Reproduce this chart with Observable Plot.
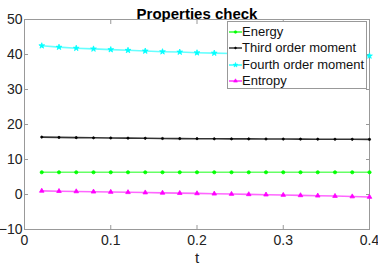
<!DOCTYPE html>
<html><head><meta charset="utf-8">
<script src="https://cdn.jsdelivr.net/npm/d3@7"></script>
<script src="https://cdn.jsdelivr.net/npm/@observablehq/plot@0.6"></script>
<style>
body{margin:0;background:#fff;font-family:"Liberation Sans",Arial,sans-serif;}
#wrap{position:relative;width:378px;height:268px;}
#legend{position:absolute;left:227px;top:21px;width:138px;height:66px;border:1px solid #999;background:#fff;font-size:13px;color:#111;}
.item{position:absolute;left:0;height:16px;line-height:16px;white-space:nowrap;}
.item svg{position:absolute;left:1px;top:3px;}
.item span{position:absolute;left:14px;top:0;}
</style></head><body>
<div id="wrap"><div id="chart"></div><div id="legend"></div></div>
<script>
const t = [0.02,0.04,0.06,0.08,0.10,0.12,0.14,0.16,0.18,0.20,0.22,0.24,0.26,0.28,0.30,0.32,0.34,0.36,0.38,0.40];
const energy = [6.35,6.35,6.35,6.35,6.35,6.35,6.35,6.35,6.35,6.35,6.35,6.35,6.35,6.35,6.35,6.35,6.35,6.35,6.35,6.35];
const third = [16.4,16.32,16.25,16.2,16.15,16.1,16.05,16.0,15.97,15.95,15.92,15.9,15.88,15.86,15.84,15.82,15.8,15.78,15.77,15.75];
const fourth = [42.5,42.1,41.8,41.6,41.4,41.2,41.0,40.8,40.7,40.5,40.4,40.3,40.2,40.1,40.0,39.9,39.8,39.7,39.65,39.6];
const entropy = [1.03,0.95,0.87,0.79,0.71,0.63,0.55,0.47,0.39,0.31,0.22,0.13,0.04,-0.05,-0.15,-0.25,-0.35,-0.45,-0.58,-0.72];
const seriesNames = ["Energy","Third order moment","Fourth order moment","Entropy"];
const seriesColors = ["#00ff00","#000000","#00ffff","#ff00ff"];
const seriesSymbols = ["circle","circle","star","triangle"];
const seriesR = [1.6,1.1,1.8,1.7];
const xTicks = [0,0.1,0.2,0.3,0.4];
const yTicks = [-10,0,10,20,30,40,50];

const allValues = [energy, third, fourth, entropy];
const rows = [];
allValues.forEach((vals, s) => vals.forEach((v, i) => rows.push({t: t[i], v, s})));

const marks = [
  Plot.frame({stroke: "#999"}),
  Plot.axisX({ticks: xTicks, tickSize: 0, tickPadding: 6, fontSize: 14, label: null, fill: "#222", tickFormat: d => d === 0 ? "0" : String(d)}),
  Plot.axisX({ticks: xTicks, tickSize: -4, tickFormat: () => "", label: null, stroke: "#999"}),
  Plot.axisX({ticks: xTicks, anchor: "top", tickSize: -4, tickFormat: () => "", label: null, stroke: "#999"}),
  Plot.axisY({ticks: yTicks, tickSize: 0, tickPadding: 2, fontSize: 14, label: null, fill: "#222"}),
  Plot.axisY({ticks: yTicks, tickSize: -4, tickFormat: () => "", label: null, stroke: "#999"}),
  Plot.axisY({ticks: yTicks, anchor: "right", tickSize: -4, tickFormat: () => "", label: null, stroke: "#999"}),
];
allValues.forEach((vals, s) => {
  const data = rows.filter(r => r.s === s);
  marks.push(Plot.line(data, {x: "t", y: "v", stroke: seriesColors[s], strokeWidth: 1.6, strokeOpacity: s === 1 ? 0.8 : 0.6}));
  marks.push(Plot.dot(data, {x: "t", y: "v", symbol: seriesSymbols[s], r: seriesR[s],
    fill: seriesColors[s], stroke: seriesColors[s], strokeWidth: 0.8}));
});
marks.push(Plot.text(["Properties check"], {frameAnchor: "top", dy: -11, fontSize: 15, fontWeight: "bold", fill: "#000"}));
marks.push(Plot.text(["t"], {frameAnchor: "bottom", dy: 33, fontSize: 15, fill: "#222"}));

const chart = Plot.plot({
  width: 378, height: 268,
  marginLeft: 24, marginRight: 9, marginTop: 19, marginBottom: 39,
  x: {domain: [0, 0.4]},
  y: {domain: [-10, 50]},
  style: {fontFamily: "'Liberation Sans', Arial, sans-serif", fontSize: "14px", color: "#000", background: "#fff", overflow: "visible"},
  marks
});
document.getElementById("chart").appendChild(chart);

const legend = document.getElementById("legend");
const symTypes = {circle: d3.symbolCircle, star: d3.symbolStar, triangle: d3.symbolTriangle};
seriesNames.forEach((name, i) => {
  const div = document.createElement("div");
  div.className = "item";
  div.style.top = (2 + i * 16.3) + "px";
  const sym = d3.symbol().type(symTypes[seriesSymbols[i]]).size(Math.PI * seriesR[i] * seriesR[i] * 0.7)();
  div.innerHTML = `<svg width="13" height="10"><line x1="0" x2="13" y1="5" y2="5" stroke="${seriesColors[i]}" stroke-width="1.2"/><path transform="translate(6.5,5)" d="${sym}" fill="${seriesColors[i]}" stroke="${seriesColors[i]}" stroke-width="0.6"/></svg><span>${name}</span>`;
  legend.appendChild(div);
});
</script>
</body></html>
